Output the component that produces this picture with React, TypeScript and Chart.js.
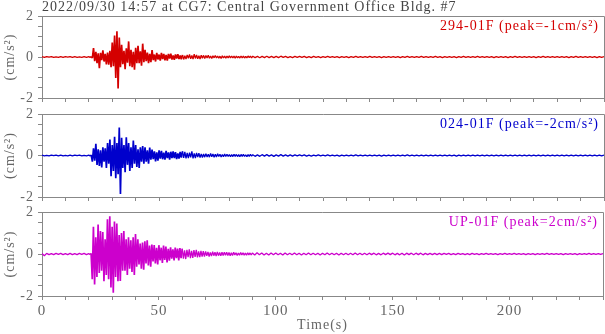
import React, { useEffect, useRef } from "react";
import { Chart, registerables } from "chart.js";

Chart.register(...registerables);

// ---------- text & ticks ----------
const TITLE = "2022/09/30 14:57 at CG7: Central Government Office Bldg. #7";
const X_AXIS_TITLE = "Time(s)";
const Y_AXIS_TITLE = "(cm/s²)";
const xTickLabels = [0, 50, 100, 150, 200];
const yTickLabels = [-2, 0, 2];
const xMin = 0;
const xMax = 240;
const yMin = -2;
const yMax = 2;

// ---------- sampling of the traces (seconds) ----------
const preStart = 0;
const preStep = 1;
const strongStart = 20;
const strongStep = 0.5;
const codaStart = 90;
const codaStep = 1;

// ---------- channels ----------
const channelLabels = [
  "294-01F (peak=-1cm/s²)",
  "024-01F (peak=-2cm/s²)",
  "UP-01F (peak=2cm/s²)",
];

// 294-01F (cm/s²)
const redPre = [.02, -.02, .02, -.01, .02, -.02, .01, -.02, .02, -.02, .02, -.01, .02, -.02, .02, -.02, .01, -.02, .02, -.02];
const redStrong = [
  .02, -.02, .03, -.05,
  .44, -.2, .25, -.3, .18, -.54,
  .2, -.15, .32, -.22, .15, -.36,
  .22, -.38, .3, -.5,
  .7, -.45, 1.05, -1.02, 1.25, -1.54,
  .95, -.5, .6, -.35,
  .3, -.6, .42, -.28, .76, -.45,
  .35, -.5, .25, -.62, .45, -.3,
  .55, -.3, .28, -.42, .65, -.25,
  .35, -.2, .22, -.3, .15, -.25,
  .34, -.15, .12, -.22, .2, -.12,
  .12, -.18, .2, -.1, .15, -.16,
  .1, -.18, .15, -.08, .16, -.12,
  .08, -.14, .12, -.07, .14, -.1,
  .07, -.11, .1, -.12, .06, -.1,
  .1, -.06, .12, -.09, .07, -.1,
  .14, -.07, .1, -.09, .06, -.1,
  .09, -.06, .08, -.07,
  .07, -.05, .08, -.06, .05, -.07, .06, -.04, .07, -.05,
  .05, -.06, .04, -.07, .06, -.05, .04, -.06, .05, -.04,
  .06, -.04, .05, -.05, .04, -.06, .05, -.04, .03, -.05,
  .05, -.04, .04, -.05, .03, -.04, .05, -.03, .04, -.05,
];
const redCoda = [
  .04, -.03, .03, -.04, .03, -.03, .04, -.03, .03, -.03,
  .03, -.03, .04, -.02, .03, -.03, .02, -.03, .03, -.02,
  .03, -.02, .03, -.03, .02, -.03, .03, -.02, .02, -.03,
  .02, -.02, .03, -.02, .02, -.02, .02, -.03, .02, -.02,
  .02, -.03, .02, -.02, .03, -.02, .02, -.02, .02, -.02,
  .03, -.02, .02, -.02, .02, -.03, .02, -.02, .02, -.02,
  .02, -.02, .02, -.03, .02, -.02, .03, -.02, .02, -.02,
  .02, -.02, .03, -.02, .02, -.02, .02, -.02, .03, -.02,
  .02, -.03, .02, -.02, .02, -.02, .02, -.03, .02, -.02,
  .03, -.02, .02, -.02, .02, -.02, .03, -.02, .02, -.02,
  .02, -.02, .02, -.03, .02, -.02, .02, -.02, .02, -.03,
  .02, -.02, .03, -.02, .02, -.02, .02, -.02, .02, -.02,
  .02, -.03, .02, -.02, .03, -.02, .02, -.02, .02, -.02,
  .02, -.02, .02, -.02, .02, -.03, .02, -.02, .03, -.02,
  .02, -.02, .02, -.02, .02, -.02, .02, -.03, .02, -.02,
  .02,
];

// 024-01F (cm/s²)
const bluePre = [.02, -.02, .01, -.02, .02, -.01, .02, -.02, .02, -.02, .01, -.02, .02, -.02, .02, -.01, .02, -.02, .01, -.02];
const blueStrong = [
  .02, -.02, .03, -.3,
  .35, -.25, .56, -.45, .3, -.5,
  .25, -.58, .4, -.3, .35, -.6,
  .6, -.4, .77, -1.0,
  .5, -.75, .9, -1.1, .6, -.9,
  1.35, -1.85, .85, -.6,
  .5, -.8, .88, -.45, .6, -.75,
  .4, -.6, .72, -.4, .5, -.55,
  .3, -.6, .4, -.3, .45, -.4,
  .4, -.3, .25, -.4, .38, -.2,
  .28, -.18, .2, -.28, .15, -.25,
  .25, -.15, .22, -.18, .14, -.2,
  .22, -.12, .15, -.2, .18, -.12,
  .2, -.12, .16, -.17, .1, -.15,
  .17, -.1, .2, -.12, .18, -.14,
  .12, -.13, .14, -.09, .2, -.14,
  .1, -.12, .12, -.08, .11, -.1,
  .08, -.1, .07, -.08,
  .09, -.07, .06, -.08, .1, -.06, .07, -.08, .06, -.07,
  .08, -.05, .06, -.07, .05, -.06, .07, -.05, .06, -.05,
  .05, -.06, .04, -.05, .06, -.04, .05, -.05, .04, -.06,
  .05, -.04, .05, -.04, .03, -.05, .04, -.04, .05, -.03,
];
const blueCoda = [
  .04, -.04, .03, -.04, .04, -.03, .04, -.03, .03, -.04,
  .03, -.03, .04, -.03, .03, -.03, .03, -.03, .03, -.02,
  .03, -.02, .03, -.03, .02, -.03, .02, -.02, .03, -.02,
  .02, -.02, .03, -.02, .02, -.02, .02, -.03, .02, -.02,
  .02, -.02, .02, -.02, .03, -.02, .02, -.02, .02, -.02,
  .02, -.02, .02, -.02, .02, -.03, .02, -.02, .02, -.02,
  .02, -.02, .02, -.02, .02, -.02, .03, -.02, .02, -.02,
  .02, -.02, .02, -.02, .02, -.02, .02, -.02, .02, -.02,
  .02, -.02, .02, -.02, .02, -.02, .02, -.03, .02, -.02,
  .02, -.02, .02, -.02, .02, -.02, .02, -.02, .02, -.02,
  .02, -.02, .02, -.02, .02, -.02, .02, -.02, .02, -.02,
  .02, -.02, .02, -.02, .02, -.02, .02, -.02, .02, -.02,
  .02, -.02, .02, -.02, .02, -.02, .02, -.02, .02, -.02,
  .02, -.02, .02, -.02, .02, -.02, .02, -.02, .02, -.02,
  .02, -.02, .02, -.02, .02, -.02, .02, -.02, .02, -.02,
  .02,
];

// UP-01F (cm/s²)
const magentaPre = [.03, -.08, .03, -.03, .02, -.03, .03, -.02, .03, -.03, .02, -.03, .03, -.03, .02, -.03, .03, -.02, .03, -.03];
const magentaStrong = [
  .02, -.02, .03, -1.2,
  1.3, -1.45, .8, -1.1, 1.4, -.9,
  1.1, -.8, 1.05, -1.3, .7, -1.0,
  1.65, -1.2, 1.8, -1.6,
  1.3, -1.84, 1.55, -1.1, 1.45, -1.3,
  .9, -1.28, 1.0, -.8,
  1.1, -.8, .7, -1.0, .8, -.7,
  .65, -.85, .8, -1.0, .95, -.6,
  .7, -.5, .5, -.7, .55, -.75,
  .6, -.45, .65, -.55, .4, -.6,
  .45, -.35, .43, -.45, .3, -.5,
  .42, -.3, .3, -.42, .4, -.28,
  .35, -.4, .25, -.32, .32, -.22,
  .22, -.3, .3, -.2, .26, -.3,
  .28, -.2, .25, -.22, .18, -.24,
  .2, -.15, .22, -.2, .15, -.18,
  .18, -.14, .2, -.16, .13, -.15,
  .15, -.12, .14, -.13,
  .12, -.09, .1, -.12, .08, -.1, .11, -.08, .09, -.1,
  .1, -.08, .07, -.09, .08, -.07, .09, -.06, .08, -.07,
  .07, -.08, .06, -.07, .08, -.05, .06, -.07, .05, -.06,
  .07, -.05, .06, -.06, .05, -.06, .06, -.04, .05, -.05,
];
const magentaCoda = [
  .05, -.05, .06, -.04, .05, -.05, .04, -.05, .05, -.04,
  .05, -.04, .04, -.05, .05, -.04, .04, -.04, .05, -.04,
  .04, -.05, .04, -.04, .05, -.04, .04, -.04, .04, -.05,
  .04, -.04, .05, -.04, .04, -.04, .04, -.05, .04, -.04,
  .04, -.04, .04, -.04, .05, -.04, .04, -.04, .04, -.04,
  .04, -.03, .04, -.04, .03, -.04, .04, -.03, .04, -.03,
  .04, -.04, .03, -.04, .04, -.05, .04, -.03, .04, -.04,
  .04, -.03, .04, -.04, .03, -.03, .03, -.03, .03, -.03,
  .03, -.03, .03, -.02, .03, -.03, .02, -.03, .03, -.02,
  .02, -.03, .02, -.03, .03, -.02, .02, -.03, .02, -.02,
  .03, -.02, .02, -.02, .02, -.03, .02, -.02, .03, -.02,
  .02, -.02, .03, -.02, .02, -.02, .02, -.03, .02, -.02,
  .02, -.03, .02, -.02, .02, -.02, .03, -.02, .02, -.02,
  .02, -.02, .02, -.03, .02, -.02, .02, -.02, .02, -.03,
  .02, -.02, .02, -.02, .03, -.02, .02, -.02, .02, -.02,
  .02,
];

// ---------- styling ----------
const FONT = '"Liberation Serif", "Times New Roman", serif';
const TEXT_COLOR = "#666666";
const TITLE_COLOR = "#444444";
const FRAME_COLOR = "#888888";
const COLORS = ["#d40000", "#0000cc", "#cc00cc"];
const W = 605;
const H = 334;
const PANELS = [
  { top: 16, bottom: 98 },
  { top: 114, bottom: 197 },
  { top: 212, bottom: 296 },
];
const DENSE_FROM = 21;
const DENSE_TO = 60;

const SERIES = [
  [redPre, redStrong, redCoda],
  [bluePre, blueStrong, blueCoda],
  [magentaPre, magentaStrong, magentaCoda],
];

function buildPoints(pre: number[], strong: number[], coda: number[]) {
  const pts: { x: number; y: number }[] = [];
  pre.forEach((v, i) => pts.push({ x: preStart + i * preStep, y: v }));
  strong.forEach((v, i) => pts.push({ x: strongStart + i * strongStep, y: v }));
  coda.forEach((v, i) => pts.push({ x: codaStart + i * codaStep, y: v }));
  return pts;
}

function Panel({ index }: { index: number }) {
  const ref = useRef<HTMLCanvasElement | null>(null);
  useEffect(() => {
    const canvas = ref.current;
    if (!canvas) return;
    const panel = PANELS[index];
    const isBottom = index === PANELS.length - 1;
    const xH = isBottom ? H - panel.bottom : 12;
    const color = COLORS[index];
    const [pre, strong, coda] = SERIES[index];

    const spacing = {
      id: "spacing",
      beforeUpdate(chart: any) {
        chart.ctx.letterSpacing = "1px";
      },
      beforeDraw(chart: any) {
        chart.ctx.letterSpacing = "1px";
      },
    };

    const frame = {
      id: "frame",
      afterDraw(chart: any) {
        const { ctx, chartArea } = chart;
        const { left, right, top, bottom } = chartArea;
        ctx.save();
        ctx.letterSpacing = "1px";
        ctx.strokeStyle = FRAME_COLOR;
        ctx.lineWidth = 1;
        ctx.beginPath();
        ctx.moveTo(left, Math.round(top) + 0.5);
        ctx.lineTo(Math.round(right) + 0.5, Math.round(top) + 0.5);
        ctx.lineTo(Math.round(right) + 0.5, bottom);
        ctx.stroke();
        ctx.font = `14px ${FONT}`;
        ctx.fillStyle = color;
        ctx.textAlign = "right";
        ctx.textBaseline = "alphabetic";
        ctx.fillText(channelLabels[index], right - 5, top + 13.5);
        if (index === 0) {
          ctx.fillStyle = TITLE_COLOR;
          ctx.textAlign = "left";
          ctx.fillText(TITLE, left, 11);
        }
        ctx.restore();
      },
    };

    const chart = new Chart(canvas, {
      type: "line",
      data: {
        datasets: [
          {
            data: buildPoints(pre, strong, coda),
            borderColor: color,
            borderWidth: 1.3,
            borderJoinStyle: "bevel",
            pointRadius: 0,
            fill: false,
            tension: 0,
            segment: {
              borderWidth: (ctx: any) =>
                ctx.p0.parsed.x >= DENSE_FROM && ctx.p0.parsed.x < DENSE_TO ? 1.7 : 1.3,
            },
          },
        ],
      },
      options: {
        animation: false,
        responsive: false,
        devicePixelRatio: 1,
        events: [],
        parsing: false,
        layout: {
          padding: { top: panel.top, bottom: H - panel.bottom - xH, left: 0, right: 1 },
        },
        plugins: {
          legend: { display: false },
          tooltip: { enabled: false },
          title: { display: false },
        },
        scales: {
          x: {
            type: "linear",
            min: xMin,
            max: xMax,
            afterFit: (s: any) => {
              s.height = xH;
            },
            ticks: {
              display: isBottom,
              stepSize: 10,
              autoSkip: false,
              maxRotation: 0,
              padding: 2,
              color: TEXT_COLOR,
              font: { family: FONT, size: 15 },
              callback: (v: any) => (xTickLabels.includes(Number(v)) ? String(v) : ""),
            },
            grid: {
              display: true,
              drawOnChartArea: false,
              drawTicks: true,
              tickLength: 4,
              color: FRAME_COLOR,
              lineWidth: 1,
            },
            border: { display: true, color: FRAME_COLOR, width: 1 },
            title: {
              display: isBottom,
              text: X_AXIS_TITLE,
              color: TEXT_COLOR,
              font: { family: FONT, size: 14 },
              padding: { top: 0, bottom: 0 },
            },
          },
          y: {
            type: "linear",
            min: yMin,
            max: yMax,
            afterFit: (s: any) => {
              s.width = 42;
            },
            ticks: {
              stepSize: 0.5,
              autoSkip: false,
              padding: 4,
              color: TEXT_COLOR,
              font: { family: FONT, size: 14 },
              callback: (v: any) => (yTickLabels.includes(Number(v)) ? String(v) : ""),
            },
            grid: {
              display: true,
              drawOnChartArea: false,
              drawTicks: true,
              tickLength: 4,
              color: FRAME_COLOR,
              lineWidth: 1,
            },
            border: { display: true, color: FRAME_COLOR, width: 1 },
            title: {
              display: true,
              text: Y_AXIS_TITLE,
              color: TEXT_COLOR,
              font: { family: FONT, size: 14 },
              padding: { top: 2, bottom: 0 },
            },
          },
        },
      } as any,
      plugins: [spacing, frame],
    });
    return () => chart.destroy();
  }, [index]);

  return (
    <canvas
      ref={ref}
      width={W}
      height={H}
      style={{ position: "absolute", left: 0, top: 0, width: W, height: H }}
    />
  );
}

export default function App() {
  return (
    <div
      style={{
        position: "fixed",
        left: 0,
        top: 0,
        width: W,
        height: H,
        background: "#ffffff",
        overflow: "hidden",
      }}
    >
      {PANELS.map((_, i) => (
        <Panel key={i} index={i} />
      ))}
    </div>
  );
}
